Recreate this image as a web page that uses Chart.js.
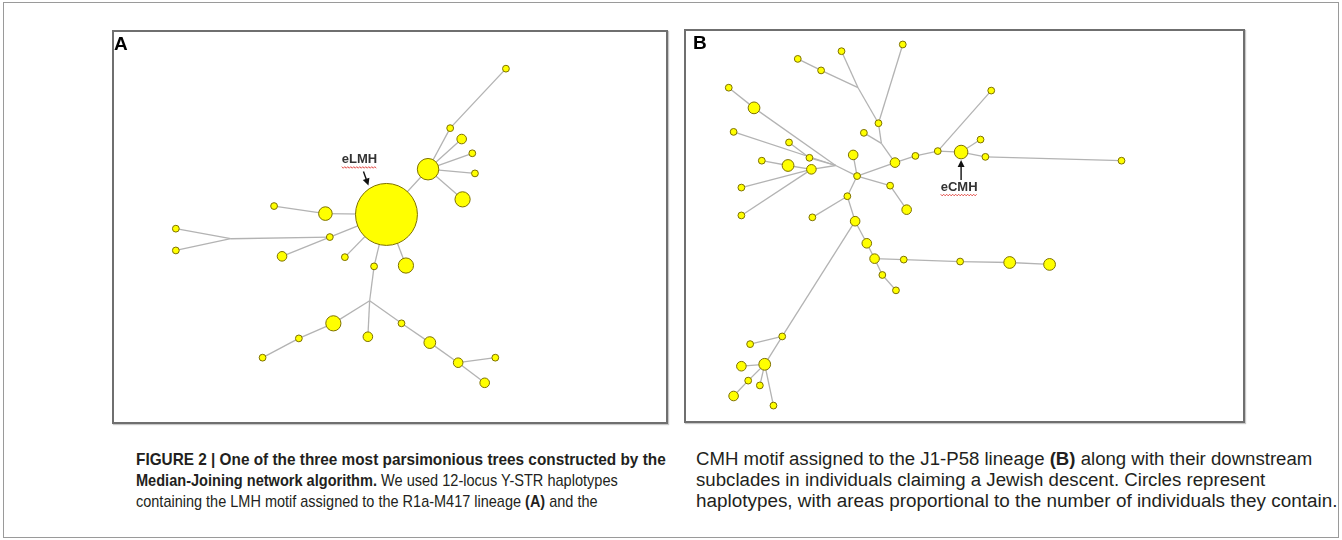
<!DOCTYPE html>
<html>
<head>
<meta charset="utf-8">
<script src="https://cdn.jsdelivr.net/npm/chart.js@4.4.1/dist/chart.umd.min.js"></script>
<style>
body{margin:0;background:#fff;width:1342px;height:540px;overflow:hidden;position:relative;font-family:Arial,"Liberation Sans",sans-serif}
.frame{position:absolute;left:3px;top:2px;width:1336px;height:536px;border:1px solid #9a9a9a;box-sizing:border-box}
.panel{position:absolute;border:2px solid #6f6f6f;box-sizing:border-box;box-shadow:1px 1px 1px #c8c8c8;background:#fff}
.panel canvas{position:absolute;left:-2px;top:-2px}
.letter{position:absolute;top:2px;font:bold 19px/19px Arial,"Liberation Sans",sans-serif;color:#000}
.cap{position:absolute;top:449px;font-family:"Liberation Sans",Arial,sans-serif;font-size:17px;line-height:21px;color:#231f20;white-space:nowrap}
.cap span{display:block;width:max-content;transform-origin:0 0}
</style>
</head>
<body>
<div class="frame"></div>
<div class="panel" style="left:112px;top:30px;width:556px;height:394px">
  <canvas id="netA" width="556" height="394"></canvas>
  <div class="letter" style="left:0px">A</div>
</div>
<div class="panel" style="left:684px;top:29px;width:561px;height:394px">
  <canvas id="netB" width="561" height="394"></canvas>
  <div class="letter" style="left:7px">B</div>
</div>
<div class="cap" style="left:136px">
<span data-w="530"><b>FIGURE 2 | One of the three most parsimonious trees constructed by the</b></span>
<span data-w="482"><b>Median-Joining network algorithm.</b> We used 12-locus Y-STR haplotypes</span>
<span data-w="462">containing the LMH motif assigned to the R1a-M417 lineage <b>(A)</b> and the</span>
</div>
<div class="cap" style="left:696px;font-size:18px">
<span data-w="616">CMH motif assigned to the J1-P58 lineage <b>(B)</b> along with their downstream</span>
<span data-w="569">subclades in individuals claiming a Jewish descent. Circles represent</span>
<span data-w="641">haplotypes, with areas proportional to the number of individuals they contain.</span>
</div>
<script>
// panel A: R1a-M417 (node positions in the network layout, count = individuals, 0 = median vector)
const aX = [274, 321, 346, 409, 359, 371, 374, 360, 205, 147, 210, 98, 36, 36, 156, 227, 260, 255, 296, 214, 175, 134, 253, 291, 323, 355, 397, 385]
const aY = [182, 128, 79, 8, 92, 109, 133, 164, 181, 172, 209, 211, 199, 225, 232, 233, 244, 285, 243, 312, 330, 353, 328, 312, 335, 359, 353, 383]
const aCount = [83, 10, 1, 1, 2, 1, 1, 5, 4, 1, 1, 0, 1, 1, 2, 1, 1, 0, 5, 5, 1, 1, 2, 1, 3, 2, 1, 2]
const aEdges = [[0,1],[1,2],[2,3],[1,4],[1,5],[1,6],[1,7],[0,8],[8,9],[0,10],[10,11],[11,12],[11,13],[10,14],
  [0,15],[0,16],[16,17],[0,18],[17,19],[19,20],[20,21],[17,22],[17,23],[23,24],[24,25],[25,26],[25,27]]

// panel B: J1-P58
const bX = [170, 109, 133, 154, 217, 171, 192, 195, 177, 209, 230, 253, 277, 308, 297, 302, 442, 166, 148, 38, 64, 43, 100, 121, 72, 99, 123, 51, 51,
  204, 221, 160, 124, 168, 180, 188, 218, 276, 327, 368, 196, 210, 93, 60, 75, 51, 58, 70, 43, 84]
const bY = [145, 23, 35, 15, 8, 53, 90, 111, 100, 131, 124, 119, 120, 56, 107, 125, 129, 123, 134, 53, 74, 99, 110, 126, 129, 134, 138, 157, 186,
  155, 180, 166, 188, 192, 215, 231, 232, 234, 235, 237, 248, 264, 312, 320, 341, 343, 358, 363, 374, 384]
const bCount = [1, 1, 1, 1, 1, 0, 1, 0, 1, 2, 1, 1, 4, 1, 1, 1, 1, 2, 0, 1, 3, 1, 1, 1, 1, 3, 2, 1, 1,
  1, 2, 1, 1, 2, 2, 2, 1, 1, 3, 3, 1, 1, 1, 1, 3, 2, 1, 1, 2, 1]
const bEdges = [[1,2],[2,5],[3,5],[5,6],[4,6],[6,7],[8,7],[7,9],[0,9],[9,10],[10,11],[11,12],[11,13],[12,14],[12,15],[15,16],
  [0,17],[0,18],[18,20],[20,19],[18,21],[18,23],[23,22],[18,26],[26,25],[25,24],[26,27],[26,28],[0,29],[29,30],[0,31],[31,32],
  [31,33],[33,34],[34,35],[35,36],[36,37],[37,38],[38,39],[35,40],[40,41],[33,42],[42,43],[42,44],[44,45],[44,46],[46,48],[44,47],[44,49]]

// labelled haplotype: node index, text, text offset, arrow from/to offsets
const aLabel = {node: 0, text: 'eLMH', dx: -27, dy: -55, from: [-23, -43], to: [-18, -29]}
const bLabel = {node: 12, text: 'eCMH', dx: -2, dy: 35, from: [0, 28], to: [0, 8]}

function buildDatasets(xs, ys, counts, edges) {
    const datasets = edges.map(([a, b]) => ({
        type: 'scatter',
        data: [{x: xs[a], y: ys[a]}, {x: xs[b], y: ys[b]}],
        showLine: true,
        borderColor: '#b3b3b3',
        borderWidth: 1.3,
        pointRadius: 0,
        pointHoverRadius: 0,
        clip: false,
        order: 2
    }))
    const nodes = []
    xs.forEach((x, i) => {
        if (counts[i] > 0) nodes.push({x: x, y: ys[i], r: 3.4 * Math.sqrt(counts[i])})
    })
    datasets.push({
        type: 'bubble',
        data: nodes,
        backgroundColor: '#ffff00',
        borderColor: '#7d7000',
        borderWidth: 1,
        clip: false,
        order: 1
    })
    return datasets
}

const labelPlugin = {
    id: 'nodeLabel',
    afterDatasetsDraw(chart, args, opts) {
        const lab = opts.label
        const {ctx, scales} = chart
        const px = scales.x.getPixelForValue(opts.xs[lab.node])
        const py = scales.y.getPixelForValue(opts.ys[lab.node])
        ctx.save()
        ctx.font = 'bold 13px Arial, "Liberation Sans", sans-serif'
        ctx.fillStyle = '#333'
        ctx.textAlign = 'center'
        ctx.textBaseline = 'middle'
        const tx = px + lab.dx, ty = py + lab.dy
        ctx.fillText(lab.text, tx, ty)
        // red spell-check squiggle
        const w = ctx.measureText(lab.text).width
        ctx.strokeStyle = '#e0403a'
        ctx.lineWidth = 0.9
        ctx.beginPath()
        let up = true
        for (let x = tx - w / 2; x <= tx + w / 2; x += 1.5) {
            const y = ty + 8 + (up ? -0.8 : 0.8)
            if (x === tx - w / 2) ctx.moveTo(x, y); else ctx.lineTo(x, y)
            up = !up
        }
        ctx.stroke()
        // arrow
        const x1 = px + lab.from[0], y1 = py + lab.from[1]
        const x2 = px + lab.to[0], y2 = py + lab.to[1]
        const ang = Math.atan2(y2 - y1, x2 - x1)
        ctx.strokeStyle = '#111'
        ctx.fillStyle = '#111'
        ctx.lineWidth = 1.4
        ctx.beginPath()
        ctx.moveTo(x1, y1)
        ctx.lineTo(x2 - 5 * Math.cos(ang), y2 - 5 * Math.sin(ang))
        ctx.stroke()
        ctx.beginPath()
        ctx.moveTo(x2, y2)
        ctx.lineTo(x2 - 7 * Math.cos(ang) + 3.5 * Math.sin(ang), y2 - 7 * Math.sin(ang) - 3.5 * Math.cos(ang))
        ctx.lineTo(x2 - 7 * Math.cos(ang) - 3.5 * Math.sin(ang), y2 - 7 * Math.sin(ang) + 3.5 * Math.cos(ang))
        ctx.closePath()
        ctx.fill()
        ctx.restore()
    }
}

function drawNetwork(id, xs, ys, counts, edges, label, w, h) {
    const ctx = document.getElementById(id).getContext('2d')
    new Chart(ctx, {
        type: 'scatter',
        data: {datasets: buildDatasets(xs, ys, counts, edges)},
        options: {
            responsive: false,
            animation: false,
            devicePixelRatio: 1,
            layout: {padding: 0},
            events: [],
            scales: {
                x: {type: 'linear', min: 0, max: w, display: false},
                y: {type: 'linear', min: 0, max: h, reverse: true, display: false}
            },
            plugins: {
                legend: {display: false},
                tooltip: {enabled: false},
                nodeLabel: {label: label, xs: xs, ys: ys}
            }
        },
        plugins: [labelPlugin]
    })
}

drawNetwork('netA', aX, aY, aCount, aEdges, aLabel, 556, 394)
drawNetwork('netB', bX, bY, bCount, bEdges, bLabel, 561, 394)

// condense each caption line to the width it has in the printed figure
document.querySelectorAll('.cap span').forEach(el => {
    el.style.transform = 'scaleX(' + (+el.dataset.w / el.offsetWidth) + ')'
})
</script>
</body>
</html>
